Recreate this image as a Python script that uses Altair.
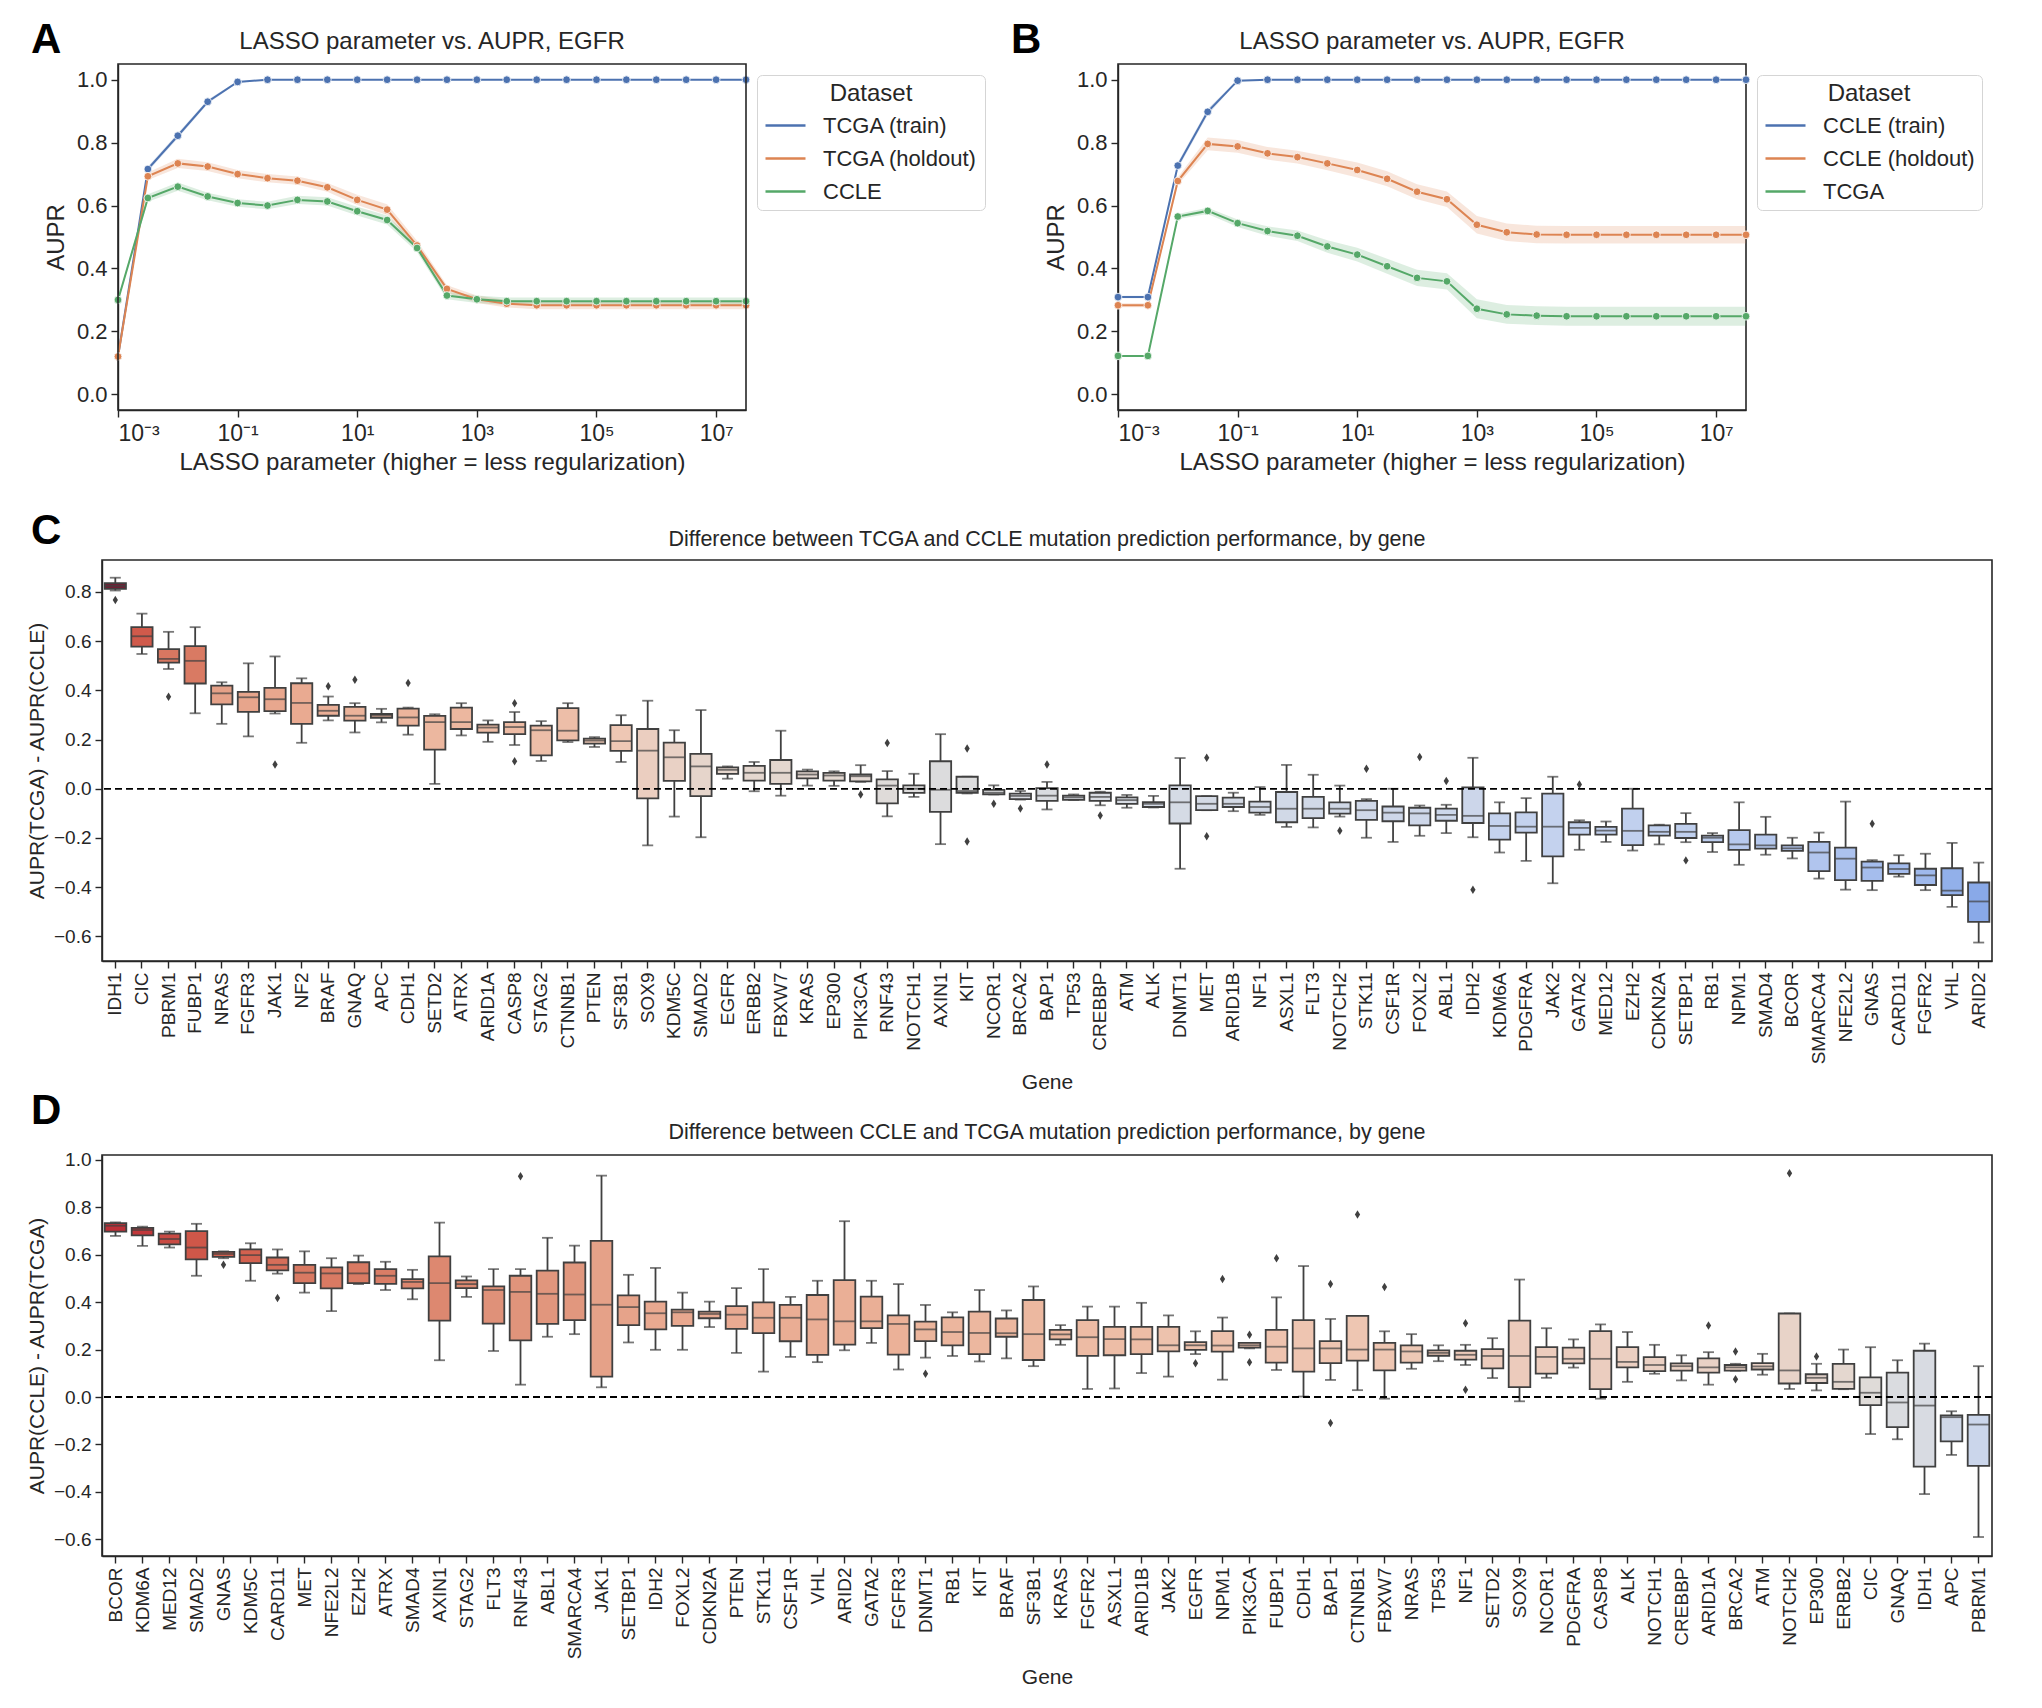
import altair as alt
import pandas as pd

FONT = "Liberation Sans"
TXT = "#262626"
LINE = "#404040"

# ---------------- Panels A / B data ----------------
lasso_params = [0.001, 0.00316, 0.01, 0.0316, 0.1, 0.316, 1.0, 3.16, 10.0, 31.6, 100.0, 316.0,
                1000.0, 3160.0, 10000.0, 31600.0, 100000.0, 316000.0, 1000000.0, 3160000.0,
                10000000.0, 31600000.0]

a_names = ["TCGA (train)", "TCGA (holdout)", "CCLE"]
a_train = [0.12, 0.716, 0.822, 0.930, 0.993, 1.0, 1.0, 1.0, 1.0, 1.0, 1.0, 1.0, 1.0, 1.0, 1.0, 1.0, 1.0, 1.0, 1.0, 1.0, 1.0, 1.0]
a_hold = [0.12, 0.693, 0.734, 0.724, 0.700, 0.687, 0.679, 0.658, 0.618, 0.587, 0.473, 0.335, 0.302, 0.288, 0.283, 0.283, 0.283, 0.283, 0.283, 0.283, 0.283, 0.283]
a_other = [0.30, 0.624, 0.660, 0.629, 0.608, 0.600, 0.618, 0.613, 0.582, 0.554, 0.465, 0.314, 0.302, 0.296, 0.296, 0.296, 0.296, 0.296, 0.296, 0.296, 0.296, 0.296]
a_train_ci = [0.0, 0.008, 0.008, 0.006, 0.003, 0.0, 0.0, 0.0, 0.0, 0.0, 0.0, 0.0, 0.0, 0.0, 0.0, 0.0, 0.0, 0.0, 0.0, 0.0, 0.0, 0.0]
a_hold_ci = [0.005, 0.012, 0.015, 0.014, 0.013, 0.013, 0.013, 0.014, 0.016, 0.017, 0.015, 0.012, 0.012, 0.012, 0.013, 0.013, 0.013, 0.013, 0.013, 0.013, 0.013, 0.013]
a_other_ci = [0.005, 0.012, 0.013, 0.012, 0.012, 0.012, 0.013, 0.013, 0.014, 0.014, 0.013, 0.012, 0.012, 0.012, 0.012, 0.012, 0.012, 0.012, 0.012, 0.012, 0.012, 0.012]

b_names = ["CCLE (train)", "CCLE (holdout)", "TCGA"]
b_train = [0.309, 0.309, 0.727, 0.898, 0.997, 1.0, 1.0, 1.0, 1.0, 1.0, 1.0, 1.0, 1.0, 1.0, 1.0, 1.0, 1.0, 1.0, 1.0, 1.0, 1.0, 1.0]
b_hold = [0.283, 0.283, 0.678, 0.796, 0.788, 0.766, 0.754, 0.734, 0.713, 0.685, 0.644, 0.620, 0.539, 0.515, 0.508, 0.507, 0.507, 0.507, 0.507, 0.507, 0.507, 0.507]
b_other = [0.122, 0.122, 0.565, 0.583, 0.544, 0.519, 0.504, 0.470, 0.444, 0.407, 0.370, 0.359, 0.272, 0.254, 0.250, 0.248, 0.248, 0.248, 0.248, 0.248, 0.248, 0.248]
b_train_ci = [0.004, 0.004, 0.010, 0.010, 0.003, 0.0, 0.0, 0.0, 0.0, 0.0, 0.0, 0.0, 0.0, 0.0, 0.0, 0.0, 0.0, 0.0, 0.0, 0.0, 0.0, 0.0]
b_hold_ci = [0.006, 0.006, 0.012, 0.020, 0.020, 0.020, 0.020, 0.022, 0.024, 0.024, 0.024, 0.025, 0.028, 0.028, 0.028, 0.028, 0.028, 0.028, 0.028, 0.028, 0.028, 0.028]
b_other_ci = [0.003, 0.003, 0.008, 0.010, 0.012, 0.015, 0.017, 0.020, 0.022, 0.024, 0.026, 0.026, 0.030, 0.030, 0.030, 0.030, 0.030, 0.030, 0.030, 0.030, 0.030, 0.030]

x_tick_values = [0.001, 0.1, 10.0, 1000.0, 100000.0, 10000000.0]
aupr_ticks = [0.0, 0.2, 0.4, 0.6, 0.8, 1.0]
SERIES_COLORS = ["#4c72b0", "#dd8452", "#55a868"]
LASSO_TITLE = "LASSO parameter vs. AUPR, EGFR"

# ---------------- Panel C data ----------------
c_genes = ["IDH1", "CIC", "PBRM1", "FUBP1", "NRAS", "FGFR3", "JAK1", "NF2", "BRAF", "GNAQ", "APC", "CDH1",
           "SETD2", "ATRX", "ARID1A", "CASP8", "STAG2", "CTNNB1", "PTEN", "SF3B1", "SOX9", "KDM5C", "SMAD2",
           "EGFR", "ERBB2", "FBXW7", "KRAS", "EP300", "PIK3CA", "RNF43", "NOTCH1", "AXIN1", "KIT", "NCOR1",
           "BRCA2", "BAP1", "TP53", "CREBBP", "ATM", "ALK", "DNMT1", "MET", "ARID1B", "NF1", "ASXL1", "FLT3",
           "NOTCH2", "STK11", "CSF1R", "FOXL2", "ABL1", "IDH2", "KDM6A", "PDGFRA", "JAK2", "GATA2", "MED12",
           "EZH2", "CDKN2A", "SETBP1", "RB1", "NPM1", "SMAD4", "BCOR", "SMARCA4", "NFE2L2", "GNAS", "CARD11",
           "FGFR2", "VHL", "ARID2"]
c_lo = [0.806, 0.548, 0.487, 0.307, 0.264, 0.213, 0.306, 0.187, 0.278, 0.229, 0.270, 0.220,
        0.020, 0.217, 0.191, 0.178, 0.113, 0.190, 0.170, 0.109, -0.230, -0.113, -0.197,
        0.041, -0.010, -0.028, 0.013, 0.012, 0.028, -0.112, -0.033, -0.225, -0.019, -0.023,
        -0.044, -0.084, -0.046, -0.067, -0.077, -0.076, -0.325, -0.087, -0.091, -0.106, -0.155, -0.157,
        -0.113, -0.199, -0.216, -0.191, -0.180, -0.197, -0.259, -0.293, -0.384, -0.248, -0.216,
        -0.251, -0.226, -0.217, -0.257, -0.309, -0.268, -0.283, -0.365, -0.410, -0.412, -0.357,
        -0.412, -0.480, -0.625]
c_q1 = [0.813, 0.578, 0.513, 0.428, 0.343, 0.313, 0.316, 0.264, 0.297, 0.277, 0.288, 0.257,
        0.159, 0.243, 0.228, 0.222, 0.136, 0.197, 0.184, 0.154, -0.039, 0.032, -0.030,
        0.061, 0.033, 0.020, 0.042, 0.033, 0.030, -0.059, -0.017, -0.094, -0.016, -0.023,
        -0.042, -0.049, -0.045, -0.049, -0.061, -0.074, -0.141, -0.087, -0.074, -0.097, -0.136, -0.119,
        -0.101, -0.126, -0.132, -0.149, -0.130, -0.139, -0.207, -0.178, -0.275, -0.186, -0.186,
        -0.229, -0.190, -0.200, -0.217, -0.248, -0.243, -0.252, -0.335, -0.371, -0.374, -0.346,
        -0.391, -0.432, -0.541]
c_med = [0.825, 0.620, 0.528, 0.520, 0.388, 0.372, 0.364, 0.349, 0.317, 0.297, 0.297, 0.290,
         0.271, 0.271, 0.249, 0.251, 0.238, 0.236, 0.196, 0.194, 0.155, 0.128, 0.091,
         0.077, 0.065, 0.065, 0.058, 0.054, 0.051, 0.013, 0.000, -0.004, -0.009, -0.016,
         -0.029, -0.028, -0.035, -0.033, -0.046, -0.061, -0.055, -0.061, -0.061, -0.074, -0.081, -0.081,
         -0.081, -0.087, -0.097, -0.100, -0.106, -0.110, -0.151, -0.154, -0.154, -0.159, -0.170,
         -0.171, -0.175, -0.175, -0.199, -0.226, -0.230, -0.242, -0.259, -0.284, -0.320, -0.326,
         -0.352, -0.414, -0.458]
c_q3 = [0.836, 0.657, 0.568, 0.580, 0.419, 0.394, 0.410, 0.429, 0.341, 0.333, 0.304, 0.326,
        0.296, 0.330, 0.261, 0.271, 0.257, 0.328, 0.204, 0.259, 0.243, 0.188, 0.142,
        0.087, 0.093, 0.117, 0.071, 0.065, 0.058, 0.038, 0.014, 0.112, 0.049, -0.004,
        -0.020, 0.003, -0.028, -0.016, -0.035, -0.054, 0.014, -0.030, -0.036, -0.052, -0.013, -0.033,
        -0.055, -0.049, -0.072, -0.077, -0.081, 0.006, -0.100, -0.096, -0.020, -0.136, -0.155,
        -0.081, -0.149, -0.143, -0.190, -0.168, -0.186, -0.230, -0.216, -0.239, -0.296, -0.303,
        -0.325, -0.323, -0.381]
c_hi = [0.858, 0.712, 0.638, 0.657, 0.433, 0.510, 0.538, 0.449, 0.375, 0.348, 0.325, 0.330,
        0.303, 0.348, 0.278, 0.312, 0.275, 0.348, 0.210, 0.299, 0.358, 0.238, 0.320,
        0.091, 0.109, 0.236, 0.078, 0.071, 0.096, 0.072, 0.061, 0.222, 0.049, 0.014,
        -0.009, 0.028, -0.023, -0.012, -0.025, -0.029, 0.125, -0.030, -0.016, 0.007, 0.097, 0.057,
        0.013, -0.042, 0.000, -0.068, -0.065, 0.126, -0.055, -0.038, 0.049, -0.128, -0.133,
        0.000, -0.146, -0.099, -0.180, -0.055, -0.114, -0.199, -0.178, -0.052, -0.290, -0.270,
        -0.264, -0.220, -0.300]
c_out_genes = ["IDH1", "PBRM1", "JAK1", "BRAF", "GNAQ", "CDH1", "CASP8", "CASP8", "PIK3CA", "RNF43",
               "KIT", "KIT", "NCOR1", "BRCA2", "BAP1", "CREBBP", "MET", "MET", "NOTCH2", "STK11",
               "FOXL2", "ABL1", "IDH2", "GATA2", "SETBP1", "GNAS"]
c_out_vals = [0.767, 0.374, 0.099, 0.417, 0.443, 0.430, 0.348, 0.112, -0.023, 0.186,
              0.164, -0.214, -0.061, -0.080, 0.099, -0.109, 0.126, -0.193, -0.171, 0.081,
              0.129, 0.032, -0.410, 0.017, -0.291, -0.142]

# ---------------- Panel D data ----------------
d_genes = ["BCOR", "KDM6A", "MED12", "SMAD2", "GNAS", "KDM5C", "CARD11", "MET", "NFE2L2", "EZH2", "ATRX",
           "SMAD4", "AXIN1", "STAG2", "FLT3", "RNF43", "ABL1", "SMARCA4", "JAK1", "SETBP1", "IDH2", "FOXL2",
           "CDKN2A", "PTEN", "STK11", "CSF1R", "VHL", "ARID2", "GATA2", "FGFR3", "DNMT1", "RB1", "KIT",
           "BRAF", "SF3B1", "KRAS", "FGFR2", "ASXL1", "ARID1B", "JAK2", "EGFR", "NPM1", "PIK3CA", "FUBP1",
           "CDH1", "BAP1", "CTNNB1", "FBXW7", "NRAS", "TP53", "NF1", "SETD2", "SOX9", "NCOR1", "PDGFRA",
           "CASP8", "ALK", "NOTCH1", "CREBBP", "ARID1A", "BRCA2", "ATM", "NOTCH2", "EP300", "ERBB2", "CIC",
           "GNAQ", "IDH1", "APC", "PBRM1"]
d_lo = [0.679, 0.637, 0.630, 0.511, 0.585, 0.490, 0.520, 0.440, 0.362, 0.476, 0.451,
        0.412, 0.155, 0.422, 0.194, 0.052, 0.254, 0.265, 0.041, 0.230, 0.199, 0.199,
        0.295, 0.186, 0.107, 0.169, 0.147, 0.197, 0.228, 0.116, 0.166, 0.173, 0.150,
        0.163, 0.130, 0.220, 0.034, 0.036, 0.101, 0.086, 0.181, 0.073, 0.205, 0.114,
        0.002, 0.072, 0.029, -0.007, 0.119, 0.151, 0.135, 0.080, -0.018, 0.081, 0.124,
        -0.007, 0.064, 0.098, 0.070, 0.052, 0.111, 0.094, 0.034, 0.028, 0.033, -0.156,
        -0.178, -0.409, -0.244, -0.590]
d_q1 = [0.697, 0.681, 0.643, 0.580, 0.591, 0.564, 0.534, 0.480, 0.458, 0.480, 0.477,
        0.458, 0.322, 0.459, 0.309, 0.239, 0.308, 0.324, 0.086, 0.303, 0.285, 0.300,
        0.332, 0.287, 0.269, 0.235, 0.178, 0.221, 0.290, 0.179, 0.236, 0.218, 0.181,
        0.254, 0.156, 0.243, 0.173, 0.176, 0.181, 0.192, 0.199, 0.191, 0.208, 0.145,
        0.107, 0.143, 0.153, 0.112, 0.145, 0.174, 0.158, 0.121, 0.042, 0.099, 0.142,
        0.033, 0.125, 0.109, 0.111, 0.103, 0.111, 0.116, 0.057, 0.059, 0.034, -0.034,
        -0.127, -0.293, -0.187, -0.290]
d_med = [0.722, 0.704, 0.666, 0.630, 0.603, 0.598, 0.557, 0.524, 0.521, 0.521, 0.511,
         0.485, 0.480, 0.476, 0.451, 0.443, 0.435, 0.432, 0.389, 0.379, 0.353, 0.357,
         0.350, 0.347, 0.334, 0.334, 0.327, 0.319, 0.319, 0.308, 0.285, 0.274, 0.270,
         0.269, 0.265, 0.264, 0.252, 0.244, 0.243, 0.218, 0.218, 0.217, 0.218, 0.212,
         0.205, 0.205, 0.200, 0.200, 0.192, 0.186, 0.178, 0.173, 0.173, 0.169, 0.161,
         0.161, 0.148, 0.135, 0.130, 0.125, 0.125, 0.129, 0.112, 0.081, 0.064, 0.018,
         -0.023, -0.036, -0.085, -0.116]
d_q3 = [0.733, 0.713, 0.689, 0.699, 0.612, 0.622, 0.588, 0.557, 0.546, 0.568, 0.539,
        0.497, 0.593, 0.492, 0.466, 0.511, 0.533, 0.567, 0.658, 0.428, 0.402, 0.368,
        0.360, 0.383, 0.399, 0.388, 0.430, 0.493, 0.423, 0.344, 0.318, 0.336, 0.360,
        0.331, 0.409, 0.283, 0.324, 0.296, 0.296, 0.296, 0.231, 0.278, 0.228, 0.283,
        0.324, 0.236, 0.342, 0.228, 0.218, 0.197, 0.195, 0.202, 0.322, 0.210, 0.208,
        0.278, 0.210, 0.168, 0.142, 0.163, 0.135, 0.143, 0.352, 0.096, 0.140, 0.083,
        0.103, 0.195, -0.077, -0.075]
d_hi = [0.736, 0.718, 0.697, 0.730, 0.614, 0.648, 0.622, 0.614, 0.585, 0.596, 0.570,
        0.536, 0.735, 0.508, 0.539, 0.539, 0.671, 0.638, 0.933, 0.515, 0.544, 0.440,
        0.402, 0.459, 0.539, 0.422, 0.490, 0.741, 0.490, 0.476, 0.388, 0.357, 0.451,
        0.365, 0.466, 0.303, 0.381, 0.381, 0.397, 0.344, 0.277, 0.335, 0.228, 0.420,
        0.552, 0.329, 0.342, 0.277, 0.265, 0.218, 0.220, 0.248, 0.495, 0.290, 0.243,
        0.306, 0.274, 0.220, 0.176, 0.189, 0.140, 0.182, 0.352, 0.140, 0.200, 0.210,
        0.155, 0.225, -0.060, 0.130]
d_out_genes = ["GNAS", "CARD11", "RNF43", "DNMT1", "EGFR", "NPM1", "PIK3CA", "PIK3CA", "FUBP1", "BAP1",
               "BAP1", "CTNNB1", "FBXW7", "NF1", "NF1", "ARID1A", "BRCA2", "BRCA2", "NOTCH2", "EP300"]
d_out_vals = [0.557, 0.417, 0.930, 0.098, 0.142, 0.497, 0.262, 0.147, 0.585, 0.476,
              -0.109, 0.769, 0.464, 0.311, 0.031, 0.301, 0.192, 0.075, 0.943, 0.171]

# colour stops (median value -> fill), style only
COLOR_STOPS = [-0.46, -0.30, -0.15, -0.05, 0.0, 0.06, 0.11, 0.17, 0.20, 0.27, 0.35, 0.44, 0.52, 0.60, 0.66, 0.72, 0.83]
COLOR_RANGE = ["#89a9e8", "#a9c0ee", "#c5d3ee", "#d6dbe4", "#dddcdc", "#e4d7d0", "#e8d3c8", "#ecccbd",
               "#eec6b2", "#ecb79f", "#e9aa91", "#e0957c", "#d97a63", "#d3604e", "#ca4d44", "#be2f37", "#6c1e34"]
DIAMOND = "M0,-1L0.62,0L0,1L-0.62,0Z"

LW, LH = 628, 346      # A/B plot size
BW, BH = 1890, 401     # C/D plot size


def text_layer(txt, x, y, size, bold=False, align="left"):
    return alt.Chart(pd.DataFrame({"t": [txt]})).mark_text(
        fontSize=size, fontWeight="bold" if bold else "normal", align=align, baseline="alphabetic",
        font=FONT, color="black" if bold else TXT
    ).encode(text="t:N", x=alt.value(x), y=alt.value(y))


def lasso_chart(names, vals_list, ci_list, letter, letter_x, shift):
    rows = []
    for name, vals, cis in zip(names, vals_list, ci_list):
        for p, v, c in zip(lasso_params, vals, cis):
            rows.append({"param": p, "aupr": v, "lo": v - c, "hi": v + c, "Dataset": name})
    df = pd.DataFrame(rows)
    expo = "round(log(datum.value)/LN10)"
    label_expr = ("'10' + (" + expo + " == -3 ? '⁻³' : " + expo + " == -1 ? '⁻¹' : " + expo +
                  " == 1 ? '¹' : " + expo + " == 3 ? '³' : " + expo + " == 5 ? '⁵' : '⁷')")
    x = alt.X("param:Q",
              scale=alt.Scale(type="log", domain=[lasso_params[0], lasso_params[-1]], nice=False,
                              range=[shift, shift + LW]),
              axis=alt.Axis(values=x_tick_values, labelExpr=label_expr,
                            title="LASSO parameter (higher = less regularization)",
                            labelFontSize=23, titleFontSize=24, labelPadding=5, titlePadding=5))
    ysc = alt.Scale(domain=[-0.05, 1.05], nice=False, zero=False)
    yax = alt.Axis(values=aupr_ticks, format=".1f", title="AUPR", labelFontSize=22, offset=-shift,
                   titleFontSize=24, labelPadding=4, titlePadding=8)
    cs = alt.Scale(domain=names, range=SERIES_COLORS)
    leg = alt.Legend(title="Dataset", orient="none", legendX=shift + 639, legendY=11, symbolType="stroke",
                     symbolSize=1600, symbolStrokeWidth=2.5, labelFontSize=22, titleFontSize=24,
                     titleFontWeight="normal", titleAnchor="middle", padding=7, rowPadding=-18,
                     titlePadding=-2, labelOffset=16, strokeColor="#d5d5d5", cornerRadius=5,
                     fillColor="white", labelColor=TXT, titleColor=TXT, labelFont=FONT, titleFont=FONT,
                     symbolOpacity=1)
    col = alt.Color("Dataset:N", scale=cs, legend=leg)
    base = alt.Chart(df)
    band = base.mark_area(opacity=0.2).encode(
        x=x, y=alt.Y("lo:Q", scale=ysc, axis=yax, title="AUPR"), y2="hi:Q", color=col)
    line = base.mark_line(strokeWidth=2).encode(
        x=x, y=alt.Y("aupr:Q", scale=ysc, axis=yax, title="AUPR"), color=col)
    pts = base.mark_point(filled=True, size=60, stroke="white", strokeWidth=0.8, opacity=1).encode(
        x=x, y=alt.Y("aupr:Q", scale=ysc, axis=yax, title="AUPR"), color=col)
    layers = [band, line, pts,
              text_layer(letter, letter_x, -11, 42, bold=True),
              text_layer(LASSO_TITLE, shift + LW / 2, -15.5, 24, align="center")]
    props = dict(width=shift + LW, height=LH)
    if shift:
        frame = alt.Chart(pd.DataFrame({"f": [0]})).mark_rect(
            fill="transparent", stroke=TXT, strokeWidth=1.6
        ).encode(x=alt.value(shift), x2=alt.value(shift + LW), y=alt.value(0), y2=alt.value(LH))
        layers.append(frame)
        props["view"] = alt.ViewBackground(stroke="transparent")
    return alt.layer(*layers).properties(**props)


def box_chart(genes, lo, q1, med, q3, hi, og, ov, title, ytitle, ydomain, yticks, letter, letter_y, title_y):
    df = pd.DataFrame({"gene": genes, "lo": lo, "q1": q1, "med": med, "q3": q3, "hi": hi})
    odf = pd.DataFrame({"gene": og, "val": ov})
    x = alt.X("gene:N", scale=alt.Scale(domain=genes, paddingInner=0, paddingOuter=0),
              axis=alt.Axis(title="Gene", labelAngle=-90, labelFontSize=19, titleFontSize=21,
                            labelPadding=4, titlePadding=8))
    ysc = alt.Scale(domain=ydomain, nice=False, zero=False)
    yax = alt.Axis(values=yticks, format=".1f", labelFontSize=19, titleFontSize=21,
                   labelPadding=4, titlePadding=6)

    def Y(f):
        return alt.Y(f, scale=ysc, axis=yax, title=ytitle)

    base = alt.Chart(df)
    w_lo = base.mark_rule(color=LINE, strokeWidth=1.8).encode(x=x, y=Y("lo:Q"), y2="q1:Q")
    w_hi = base.mark_rule(color=LINE, strokeWidth=1.8).encode(x=x, y=Y("q3:Q"), y2="hi:Q")
    cap_lo = base.mark_tick(size=11, thickness=1.8, color=LINE, orient="horizontal").encode(x=x, y=Y("lo:Q"))
    cap_hi = base.mark_tick(size=11, thickness=1.8, color=LINE, orient="horizontal").encode(x=x, y=Y("hi:Q"))
    box = base.mark_bar(width=alt.RelativeBandSize(0.8), stroke=LINE, strokeWidth=1.8).encode(
        x=x, y=Y("q1:Q"), y2="q3:Q",
        fill=alt.Fill("med:Q", scale=alt.Scale(domain=COLOR_STOPS, range=COLOR_RANGE,
                                               interpolate="rgb", clamp=True), legend=None))
    mid = base.mark_tick(size=21, thickness=1.8, color=LINE, orient="horizontal").encode(x=x, y=Y("med:Q"))
    outl = alt.Chart(odf).mark_point(shape=DIAMOND, filled=True, size=72, color=LINE, opacity=1).encode(
        x=x, y=Y("val:Q"))
    zero = alt.Chart(pd.DataFrame({"z": [0.0]})).mark_rule(
        color="black", strokeDash=[7, 4], strokeWidth=1.8).encode(y=Y("z:Q"))
    return alt.layer(w_lo, w_hi, cap_lo, cap_hi, box, mid, outl, zero,
                     text_layer(letter, -71, letter_y, 42, bold=True),
                     text_layer(title, BW / 2, title_y, 21.5, align="center")).properties(
        width=BW, height=BH)


chart_a = lasso_chart(a_names, [a_train, a_hold, a_other], [a_train_ci, a_hold_ci, a_other_ci], "A", -71, 16)
chart_b = lasso_chart(b_names, [b_train, b_hold, b_other], [b_train_ci, b_hold_ci, b_other_ci], "B", -107, 0)
row1 = alt.hconcat(chart_a, chart_b, spacing=23).resolve_scale(
    color="independent", x="independent", y="independent").resolve_legend(color="independent")

chart_c = box_chart(c_genes, c_lo, c_q1, c_med, c_q3, c_hi, c_out_genes, c_out_vals,
                    "Difference between TCGA and CCLE mutation prediction performance, by gene",
                    "AUPR(TCGA) - AUPR(CCLE)", [-0.70, 0.93],
                    [-0.6, -0.4, -0.2, 0.0, 0.2, 0.4, 0.6, 0.8], "C", -16, -14.5)
chart_d = box_chart(d_genes, d_lo, d_q1, d_med, d_q3, d_hi, d_out_genes, d_out_vals,
                    "Difference between CCLE and TCGA mutation prediction performance, by gene",
                    "AUPR(CCLE) - AUPR(TCGA)", [-0.67, 1.02],
                    [-0.6, -0.4, -0.2, 0.0, 0.2, 0.4, 0.6, 0.8, 1.0], "D", -31, -16.5)
rows_cd = alt.vconcat(chart_c, chart_d, spacing=-5).resolve_scale(
    x="independent", y="independent", fill="independent")

chart = alt.concat(row1, rows_cd, columns=1, spacing=34, align="none").resolve_scale(
    x="independent", y="independent", color="independent", fill="independent"
).resolve_legend(color="independent").properties(
    padding={"left": 17, "top": 10, "right": 5, "bottom": 5}
).configure(font=FONT).configure_view(stroke=TXT, strokeWidth=1.6).configure_axis(
    grid=False, domainColor=TXT, tickColor=TXT, labelColor=TXT, titleColor=TXT, tickSize=7,
    tickWidth=1.4, domainWidth=1.4, titleFontWeight="normal", labelFont=FONT, titleFont=FONT
).configure_title(font=FONT, color=TXT)

chart.save("out.html", embed_options={"renderer": "svg", "actions": False})
